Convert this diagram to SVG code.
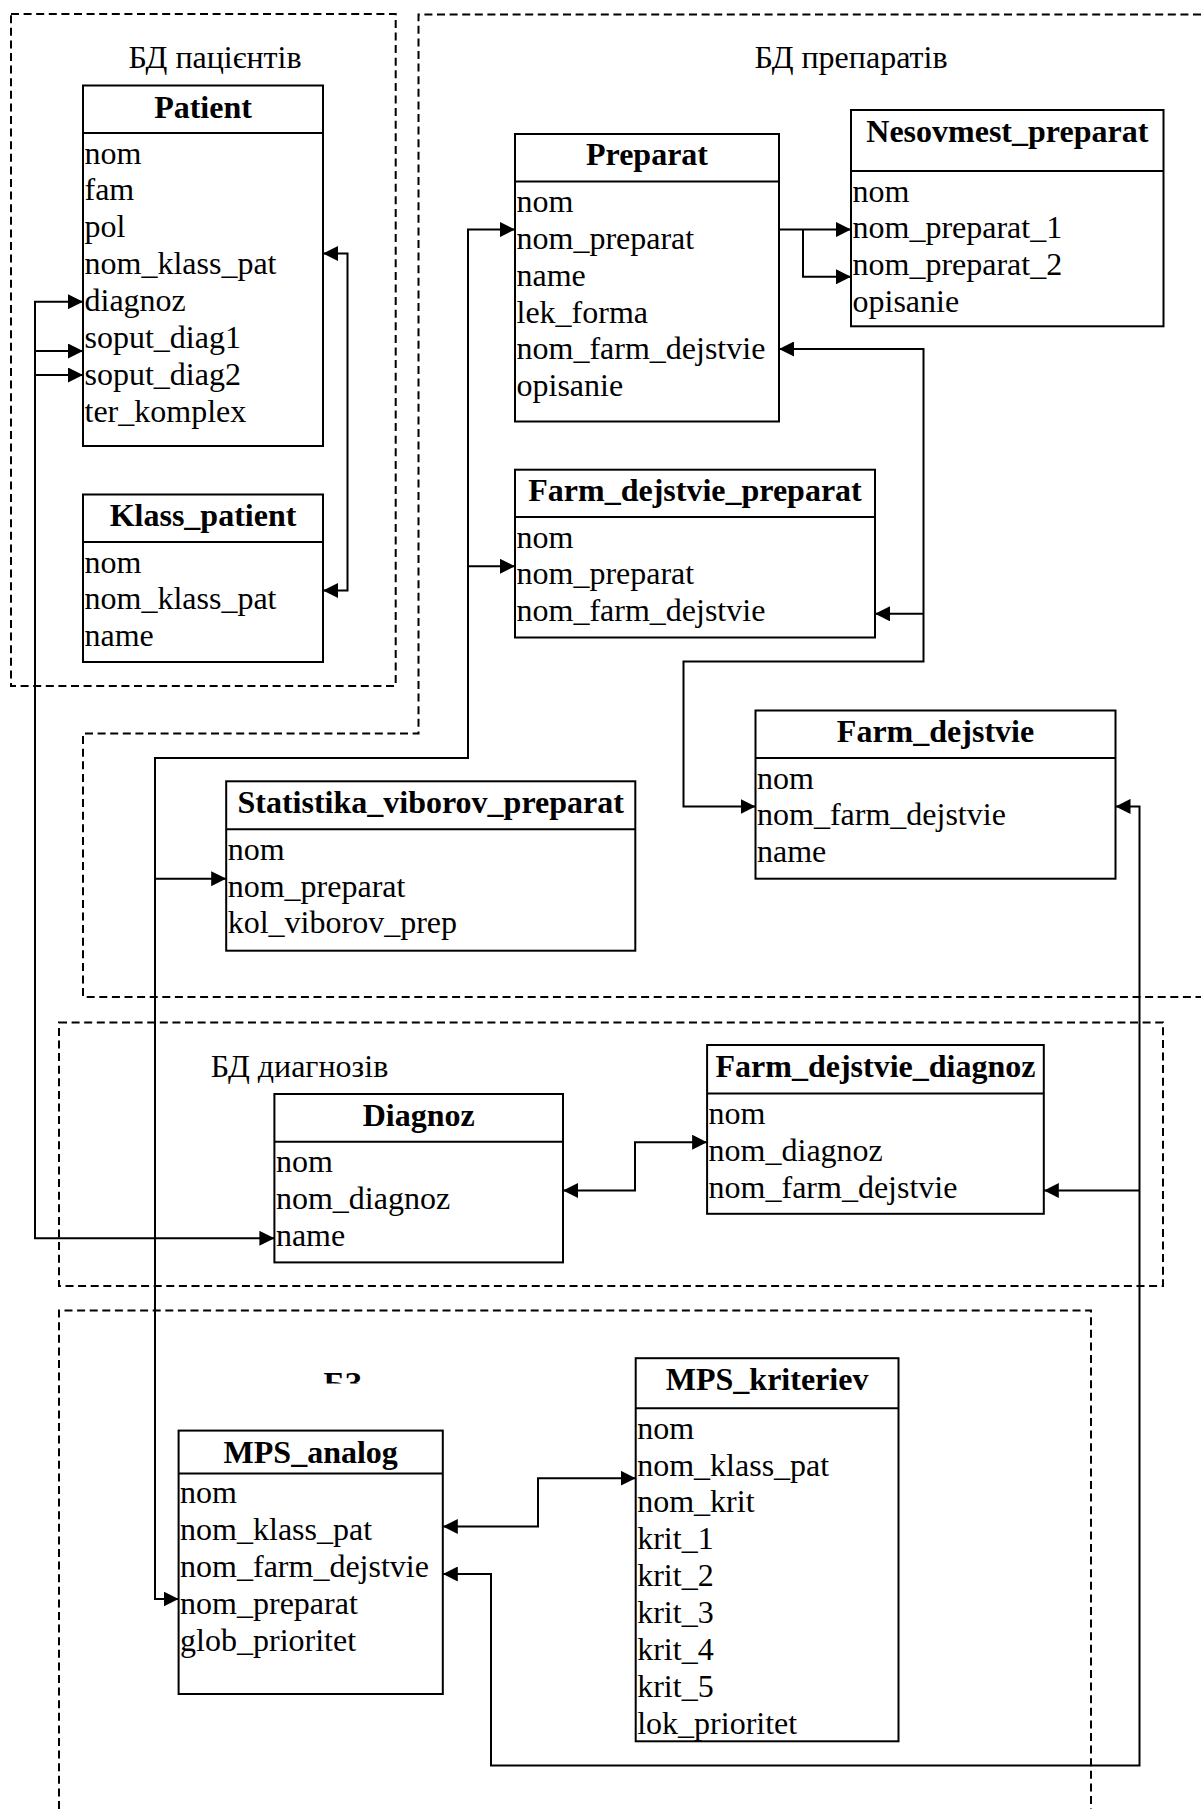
<svg xmlns="http://www.w3.org/2000/svg" width="1201" height="1809" viewBox="0 0 1201 1809">
  <defs>
    <style>
      .bg { fill: #ffffff; }
      .box { fill: #ffffff; stroke: #000000; stroke-width: 2; }
      .sep { stroke: #000000; stroke-width: 2; }
      .zone { fill: none; stroke: #000000; stroke-width: 2; stroke-dasharray: 8 4.6; }
      .link { fill: none; stroke: #000000; stroke-width: 2; }
      .both { marker-start: url(#head); marker-end: url(#head); }
      .one { marker-end: url(#head); }
      text { font-family: "Liberation Serif", "Times New Roman", serif; font-size: 32px; fill: #000000; }
      .title { font-weight: bold; text-anchor: middle; }
      .zlabel { text-anchor: middle; }
    </style>
    <marker id="head" viewBox="0 0 15 15" refX="15" refY="7.5" markerWidth="15" markerHeight="15" markerUnits="userSpaceOnUse" orient="auto-start-reverse">
      <path d="M0,0 L15,7.5 L0,15 Z" fill="#000000"/>
    </marker>
    <clipPath id="kbClip">
      <rect x="300" y="1360" width="100" height="23.5"/>
    </clipPath>
  </defs>

  <rect class="bg" x="0" y="0" width="1201" height="1809"/>

  <!-- database zones -->
  <g id="zones">
    <rect class="zone" x="11" y="14" width="384.7" height="672"/>
    <text class="zlabel" x="215" y="68">БД пацієнтів</text>

    <path class="zone" d="M1201,14.5 H418.5 V733.5 H83 V997 H1201"/>
    <text class="zlabel" x="851" y="68">БД препаратів</text>

    <rect class="zone" x="59" y="1022.5" width="1104" height="263.5"/>
    <text class="zlabel" x="299.5" y="1077">БД диагнозів</text>

    <path class="zone" d="M59,1809 V1310.5 H1091 V1809"/>
    <text x="323.5" y="1394" font-weight="bold" clip-path="url(#kbClip)">БЗ</text>
  </g>

  <!-- connectors -->
  <g id="connectors">
    <!-- Klass_patient.nom_klass_pat - Patient.nom_klass_pat -->
    <path class="link both" d="M323,253.5 H347.5 V590.5 H323"/>
    <!-- Diagnoz.name - Patient diagnoz fields -->
    <path class="link both" d="M274.4,1238.3 H35 V301.7 H83"/>
    <path class="link one" d="M35,351 H83"/>
    <path class="link one" d="M35,375 H83"/>
    <!-- Preparat.nom_preparat fan-out -->
    <path class="link both" d="M515,229.6 H468 V758 H155 V1599 H178.6"/>
    <path class="link one" d="M468,566.3 H515"/>
    <path class="link one" d="M155,878.7 H226.2"/>
    <!-- Preparat - Nesovmest_preparat -->
    <path class="link one" d="M779,229.6 H851"/>
    <path class="link one" d="M803,229.6 V276.8 H851"/>
    <!-- nom_farm_dejstvie chain -->
    <path class="link both" d="M779,349 H923.5 V661.5 H683.5 V806.4 H755.5"/>
    <path class="link one" d="M923.5,613.8 H875"/>
    <!-- Farm_dejstvie - diagnoses and MPS_analog -->
    <path class="link both" d="M1115.5,806.4 H1139.5 V1765.5 H491 V1574 H442.8"/>
    <path class="link one" d="M1139.5,1190.5 H1043.8"/>
    <!-- Diagnoz - Farm_dejstvie_diagnoz -->
    <path class="link both" d="M563,1190.5 H635 V1142.2 H707.1"/>
    <!-- MPS_analog - MPS_kriteriev -->
    <path class="link both" d="M442.8,1526.5 H538 V1478.2 H635.7"/>
  </g>

  <!-- tables -->
  <g id="Patient">
    <rect class="box" x="83" y="85.5" width="240" height="360.5"/>
    <line class="sep" x1="83" y1="133" x2="323" y2="133"/>
    <text class="title" x="203" y="117.5">Patient</text>
    <text x="84.5" y="163.5">nom</text>
    <text x="84.5" y="200.4">fam</text>
    <text x="84.5" y="237.2">pol</text>
    <text x="84.5" y="274.1">nom_klass_pat</text>
    <text x="84.5" y="310.9">diagnoz</text>
    <text x="84.5" y="347.8">soput_diag1</text>
    <text x="84.5" y="384.6">soput_diag2</text>
    <text x="84.5" y="421.5">ter_komplex</text>
  </g>

  <g id="Klass_patient">
    <rect class="box" x="83" y="494.5" width="240" height="167.5"/>
    <line class="sep" x1="83" y1="542" x2="323" y2="542"/>
    <text class="title" x="203" y="526">Klass_patient</text>
    <text x="84.5" y="572.5">nom</text>
    <text x="84.5" y="609.4">nom_klass_pat</text>
    <text x="84.5" y="646.2">name</text>
  </g>

  <g id="Preparat">
    <rect class="box" x="515" y="134" width="264" height="287.5"/>
    <line class="sep" x1="515" y1="181.5" x2="779" y2="181.5"/>
    <text class="title" x="647" y="164.5">Preparat</text>
    <text x="516.5" y="212">nom</text>
    <text x="516.5" y="248.9">nom_preparat</text>
    <text x="516.5" y="285.7">name</text>
    <text x="516.5" y="322.6">lek_forma</text>
    <text x="516.5" y="359.4">nom_farm_dejstvie</text>
    <text x="516.5" y="396.3">opisanie</text>
  </g>

  <g id="Nesovmest_preparat">
    <rect class="box" x="851" y="110" width="312.5" height="216.3"/>
    <line class="sep" x1="851" y1="171" x2="1163.5" y2="171"/>
    <text class="title" x="1007.3" y="142">Nesovmest_preparat</text>
    <text x="852.5" y="201.5">nom</text>
    <text x="852.5" y="238.4">nom_preparat_1</text>
    <text x="852.5" y="275.2">nom_preparat_2</text>
    <text x="852.5" y="312.1">opisanie</text>
  </g>

  <g id="Farm_dejstvie_preparat">
    <rect class="box" x="515" y="469.7" width="360" height="167.8"/>
    <line class="sep" x1="515" y1="517" x2="875" y2="517"/>
    <text class="title" x="695" y="501">Farm_dejstvie_preparat</text>
    <text x="516.5" y="547.5">nom</text>
    <text x="516.5" y="584.4">nom_preparat</text>
    <text x="516.5" y="621.2">nom_farm_dejstvie</text>
  </g>

  <g id="Farm_dejstvie">
    <rect class="box" x="755.5" y="710.5" width="360" height="168.2"/>
    <line class="sep" x1="755.5" y1="758" x2="1115.5" y2="758"/>
    <text class="title" x="935.5" y="741.5">Farm_dejstvie</text>
    <text x="757" y="788.5">nom</text>
    <text x="757" y="825.4">nom_farm_dejstvie</text>
    <text x="757" y="862.2">name</text>
  </g>

  <g id="Statistika_viborov_preparat">
    <rect class="box" x="226.2" y="781.3" width="409.1" height="169.4"/>
    <line class="sep" x1="226.2" y1="829.2" x2="635.3" y2="829.2"/>
    <text class="title" x="430.7" y="813">Statistika_viborov_preparat</text>
    <text x="227.7" y="859.7">nom</text>
    <text x="227.7" y="896.6">nom_preparat</text>
    <text x="227.7" y="933.4">kol_viborov_prep</text>
  </g>

  <g id="Diagnoz">
    <rect class="box" x="274.4" y="1094" width="288.6" height="168.4"/>
    <line class="sep" x1="274.4" y1="1141.7" x2="563" y2="1141.7"/>
    <text class="title" x="418.7" y="1125.5">Diagnoz</text>
    <text x="275.9" y="1172.2">nom</text>
    <text x="275.9" y="1209.1">nom_diagnoz</text>
    <text x="275.9" y="1245.9">name</text>
  </g>

  <g id="Farm_dejstvie_diagnoz">
    <rect class="box" x="707.1" y="1045" width="336.7" height="168.8"/>
    <line class="sep" x1="707.1" y1="1093.4" x2="1043.8" y2="1093.4"/>
    <text class="title" x="875.5" y="1077">Farm_dejstvie_diagnoz</text>
    <text x="708.6" y="1123.9">nom</text>
    <text x="708.6" y="1160.8">nom_diagnoz</text>
    <text x="708.6" y="1197.6">nom_farm_dejstvie</text>
  </g>

  <g id="MPS_kriteriev">
    <rect class="box" x="635.7" y="1358.2" width="262.8" height="383.1"/>
    <line class="sep" x1="635.7" y1="1408.2" x2="898.5" y2="1408.2"/>
    <text class="title" x="767.1" y="1390">MPS_kriteriev</text>
    <text x="637.2" y="1438.7">nom</text>
    <text x="637.2" y="1475.6">nom_klass_pat</text>
    <text x="637.2" y="1512.4">nom_krit</text>
    <text x="637.2" y="1549.3">krit_1</text>
    <text x="637.2" y="1586.1">krit_2</text>
    <text x="637.2" y="1623">krit_3</text>
    <text x="637.2" y="1659.8">krit_4</text>
    <text x="637.2" y="1696.7">krit_5</text>
    <text x="637.2" y="1733.5">lok_prioritet</text>
  </g>

  <g id="MPS_analog">
    <rect class="box" x="178.6" y="1430.6" width="264.2" height="263.4"/>
    <line class="sep" x1="178.6" y1="1473.6" x2="442.8" y2="1473.6"/>
    <text class="title" x="310.7" y="1462.5">MPS_analog</text>
    <text x="180.1" y="1503.4">nom</text>
    <text x="180.1" y="1540.3">nom_klass_pat</text>
    <text x="180.1" y="1577.1">nom_farm_dejstvie</text>
    <text x="180.1" y="1614">nom_preparat</text>
    <text x="180.1" y="1650.8">glob_prioritet</text>
  </g>
</svg>
